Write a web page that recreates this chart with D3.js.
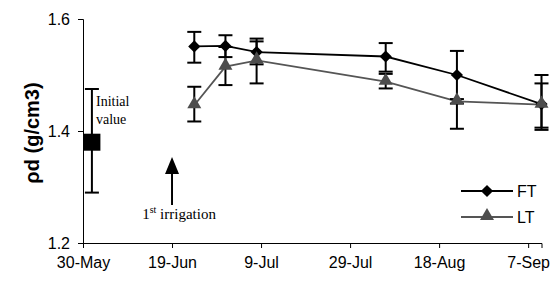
<!DOCTYPE html>
<html>
<head>
<meta charset="utf-8">
<script src="https://cdn.jsdelivr.net/npm/d3@7"></script>
<style>
  body { margin: 0; background: #fff; }
  svg { display: block; }
</style>
</head>
<body>
<div id="container"></div>
<script>
// sampling dates and bulk density values
var dates = ["2007-06-24", "2007-07-01", "2007-07-08", "2007-08-06", "2007-08-22", "2007-09-10"];
var ftMean = [1.551, 1.552, 1.541, 1.533, 1.500, 1.448];
var ftHi = [1.577, 1.571, 1.565, 1.557, 1.543, 1.500];
var ftLo = [1.522, 1.532, 1.519, 1.506, 1.404, 1.402];
var ltMean = [1.446, 1.515, 1.526, 1.488, 1.453, 1.447];
var ltHi = [1.479, 1.550, 1.560, 1.502, 1.457, 1.485];
var ltLo = [1.417, 1.482, 1.485, 1.476, 1.449, 1.406];
var initial = { date: "2007-06-01", mean: 1.38, hi: 1.475, lo: 1.29 };
var irrigationDate = "2007-06-19";
var xTicks = ["2007-05-30", "2007-06-19", "2007-07-09", "2007-07-29", "2007-08-18", "2007-09-07"];
var yTicks = [1.2, 1.4, 1.6];

var parse = d3.timeParse("%Y-%m-%d");
var W = 550, H = 286;
var svg = d3.select("#container").append("svg").attr("width", W).attr("height", H);

var x = d3.scaleTime().domain([parse("2007-05-30"), parse("2007-09-10")]).range([83, 541.5]);
var y = d3.scaleLinear().domain([1.2, 1.6]).range([243, 19]);
var sans = "Arial, 'Liberation Sans', sans-serif";

// axes
var xAxis = svg.append("g")
  .attr("transform", "translate(0," + y(1.2) + ")")
  .call(d3.axisBottom(x).tickValues(xTicks.map(parse)).tickFormat(d3.timeFormat("%-d-%b")).tickSizeOuter(0).tickSize(5).tickPadding(9));
var yAxis = svg.append("g")
  .attr("transform", "translate(" + x.range()[0] + ",0)")
  .call(d3.axisLeft(y).tickValues(yTicks).tickFormat(d3.format(".1f")).tickSizeOuter(0).tickSize(5).tickPadding(8));
svg.selectAll(".domain, .tick line").attr("stroke", "#000").attr("stroke-width", 1);
xAxis.selectAll("text").style("font-family", sans).style("font-size", "16px").attr("fill", "#000");
yAxis.selectAll("text").style("font-family", sans).style("font-size", "16px").attr("fill", "#000");

svg.append("text")
  .attr("transform", "translate(39,133) rotate(-90)")
  .attr("text-anchor", "middle")
  .style("font-family", sans)
  .style("font-size", "20px")
  .style("font-weight", "bold")
  .text("ρd (g/cm3)");

var ft = dates.map(function (d, i) { return { date: parse(d), mean: ftMean[i], hi: ftHi[i], lo: ftLo[i] }; });
var lt = dates.map(function (d, i) { return { date: parse(d), mean: ltMean[i], hi: ltHi[i], lo: ltLo[i] }; });

var line = d3.line().x(function (d) { return x(d.date); }).y(function (d) { return y(d.mean); });

function errorBars(data) {
  var g = svg.append("g").attr("stroke", "#000").attr("stroke-width", 2);
  data.forEach(function (d) {
    var cx = x(d.date);
    g.append("line").attr("x1", cx).attr("x2", cx).attr("y1", y(d.hi)).attr("y2", y(d.lo));
    g.append("line").attr("x1", cx - 7).attr("x2", cx + 7).attr("y1", y(d.hi)).attr("y2", y(d.hi));
    g.append("line").attr("x1", cx - 7).attr("x2", cx + 7).attr("y1", y(d.lo)).attr("y2", y(d.lo));
  });
}

svg.append("path").datum(ft).attr("d", line).attr("fill", "none").attr("stroke", "#000").attr("stroke-width", 1.8);
svg.append("path").datum(lt).attr("d", line).attr("fill", "none").attr("stroke", "#555").attr("stroke-width", 1.8);
errorBars(ft);
errorBars(lt);

var diamond = d3.symbol().type(d3.symbolDiamond2).size(95);
var triangle = d3.symbol().type(d3.symbolTriangle).size(85);

svg.append("g").selectAll("path").data(ft).enter().append("path")
  .attr("transform", function (d) { return "translate(" + x(d.date) + "," + y(d.mean) + ")"; })
  .attr("d", diamond).attr("fill", "#000");
svg.append("g").selectAll("path").data(lt).enter().append("path")
  .attr("transform", function (d) { return "translate(" + x(d.date) + "," + (y(d.mean) - 1) + ")"; })
  .attr("d", triangle).attr("fill", "#4d4d4d");

// initial value
var init = [{ date: parse(initial.date), mean: initial.mean, hi: initial.hi, lo: initial.lo }];
errorBars(init);
svg.append("rect")
  .attr("x", x(init[0].date) - 8.5).attr("y", y(initial.mean) - 8.5)
  .attr("width", 17).attr("height", 17).attr("fill", "#000");

var serif = "'Times New Roman', 'Liberation Serif', serif";
svg.append("text").attr("x", 96).attr("y", 106).style("font-family", serif).style("font-size", "14px").text("Initial");
svg.append("text").attr("x", 96).attr("y", 124).style("font-family", serif).style("font-size", "14px").text("value");

// irrigation arrow
var ax = x(parse(irrigationDate));
svg.append("line").attr("x1", ax).attr("x2", ax).attr("y1", 170).attr("y2", 205).attr("stroke", "#000").attr("stroke-width", 2);
svg.append("path").attr("d", "M" + ax + ",157 L" + (ax - 7) + ",174 L" + (ax + 7) + ",174 Z").attr("fill", "#000");
var irr = svg.append("text").attr("x", ax + 7).attr("y", 219).attr("text-anchor", "middle")
  .style("font-family", serif).style("font-size", "15px");
irr.append("tspan").text("1");
irr.append("tspan").attr("dy", -6).style("font-size", "10px").text("st");
irr.append("tspan").attr("dy", 6).text(" irrigation");

// legend
var legend = [
  { name: "FT", color: "#000", symbol: diamond, y: 191 },
  { name: "LT", color: "#555", symbol: triangle, y: 217 }
];
legend.forEach(function (d) {
  svg.append("line").attr("x1", 461).attr("x2", 513).attr("y1", d.y).attr("y2", d.y).attr("stroke", d.color).attr("stroke-width", 1.8);
  svg.append("path").attr("transform", "translate(487," + (d.name === "LT" ? d.y - 1 : d.y) + ")").attr("d", d.symbol)
    .attr("fill", d.name === "LT" ? "#4d4d4d" : "#000");
  svg.append("text").attr("x", 517).attr("y", d.y).attr("dy", "0.35em")
    .style("font-family", sans).style("font-size", "16px").text(d.name);
});
</script>
</body>
</html>
